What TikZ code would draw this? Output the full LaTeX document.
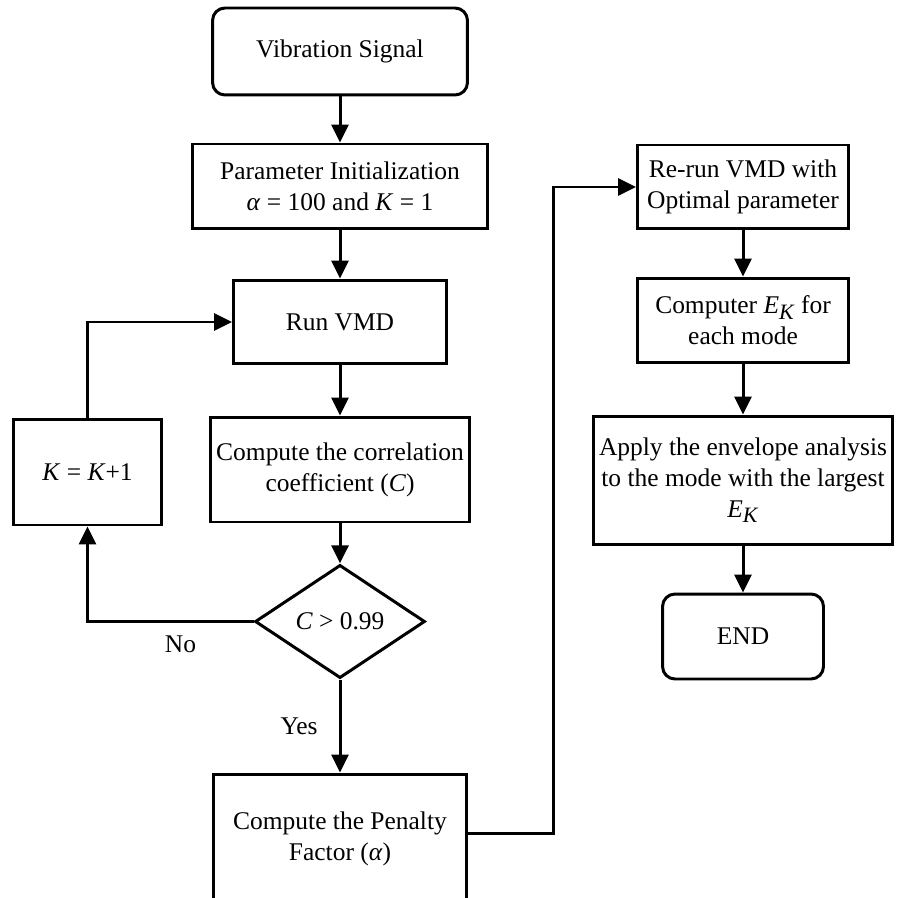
\documentclass[tikz,border=0pt]{standalone}
\usepackage{fontspec}
\setmainfont{Liberation Serif}
\usetikzlibrary{shapes.geometric,arrows.meta}

\newcommand{\ek}{\textit{E}\raisebox{-0.45ex}{\fontsize{12.5}{12.5}\selectfont\textit{K}}}

\begin{document}
\begin{tikzpicture}[x=0.02cm, y=-0.02cm, line width=1.7pt,
    every node/.style={font=\fontsize{14.5}{17.5}\selectfont, align=center},
    box/.style={draw, rectangle},
    term/.style={draw, rectangle, rounded corners=0.25cm},
    test/.style={draw, diamond, inner sep=1pt},
    flow/.style={-{Triangle[length=0.36cm, width=0.34cm]}}]
    \clip (0,0) rectangle (896,898);

    % Left column
    \node[term, minimum width=5.1cm, minimum height=1.74cm] (sig) at (340,51.5) {Vibration Signal};
    \node[box, minimum width=5.92cm, minimum height=1.7cm] (init) at (340,186.5)
        {Parameter Initialization\\\textit{α} = 100 and \textit{K} = 1};
    \node[box, minimum width=4.26cm, minimum height=1.68cm] (vmd) at (340,322) {Run VMD};
    \node[box, minimum width=5.06cm, minimum height=2.1cm] (corr) at (340,469.5)
        {Compute the correlation\\coefficient (\textit{C})};
    \node[test, minimum width=3.4cm, minimum height=1.66cm] (dia) at (340,621.5) {\textit{C} > 0.99};
    \node[box, minimum width=5.08cm, minimum height=2.6cm] (pen) at (340,839)
        {Compute the Penalty\\Factor (\textit{α})};
    \node[box, minimum width=2.98cm, minimum height=2.12cm] (kinc) at (87.5,472) {\textit{K} = \textit{K}+1};

    % Right column
    \node[box, minimum width=4.22cm, minimum height=1.68cm] (rerun) at (743,187)
        {Re-run VMD with\\Optimal parameter};
    \node[box, minimum width=4.22cm, minimum height=1.7cm] (ek) at (743,320.5)
        {Computer \ek{} for\\each mode};
    \node[box, minimum width=5.96cm, minimum height=2.58cm] (apply) at (743,480.5)
        {Apply the envelope analysis\\to the mode with the largest\\\ek};
    \node[term, minimum width=3.22cm, minimum height=1.7cm] (fin) at (743,636.5) {END};

    % Flow
    \draw[flow] (sig) -- (init);
    \draw[flow] (init) -- (vmd);
    \draw[flow] (vmd) -- (corr);
    \draw[flow] (corr) -- (dia);
    \draw[flow] (dia) -- node[left=0.3cm] {Yes} (pen);
    \draw[flow] (dia.west) -| node[pos=0.22, below=0.13cm] {No} (kinc.south);
    \draw[flow] (kinc.north) |- (vmd.west);

    \coordinate (bend) at (553,833);
    \draw[flow] (pen.east |- bend) -- (bend) |- (rerun.west);
    \draw[flow] (rerun) -- (ek);
    \draw[flow] (ek) -- (apply);
    \draw[flow] (apply) -- (fin);
\end{tikzpicture}
\end{document}
